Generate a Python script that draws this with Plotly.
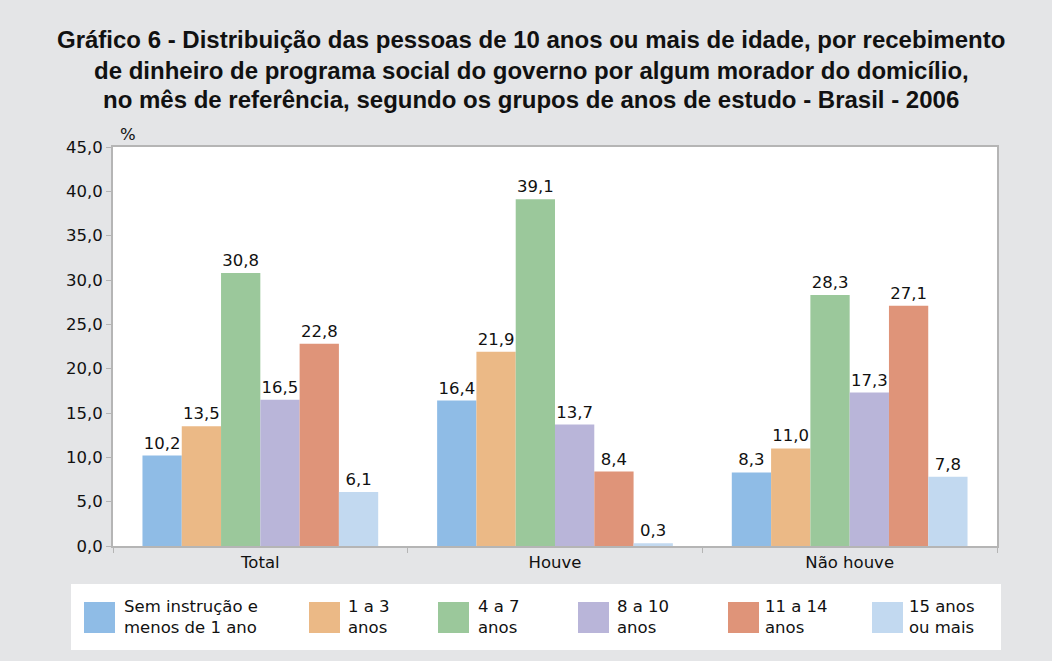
import plotly.graph_objects as go

categories = ["Total", "Houve", "Não houve"]
series_names = ["Sem instrução e<br>menos de 1 ano", "1 a 3<br>anos", "4 a 7<br>anos",
                "8 a 10<br>anos", "11 a 14<br>anos", "15 anos<br>ou mais"]
sem_instrucao = [10.2, 16.4, 8.3]
anos_1_3 = [13.5, 21.9, 11.0]
anos_4_7 = [30.8, 39.1, 28.3]
anos_8_10 = [16.5, 13.7, 17.3]
anos_11_14 = [22.8, 8.4, 27.1]
anos_15_mais = [6.1, 0.3, 7.8]
y_ticks = [0, 5, 10, 15, 20, 25, 30, 35, 40, 45]
title_lines = [
    "Gráfico 6 - Distribuição das pessoas de 10 anos ou mais de idade, por recebimento",
    "de dinheiro de programa social do governo por algum morador do domicílio,",
    "no mês de referência, segundo os grupos de anos de estudo - Brasil - 2006",
]

series_values = [sem_instrucao, anos_1_3, anos_4_7, anos_8_10, anos_11_14, anos_15_mais]
colors = ["#8fbce6", "#ebb986", "#9bc89b", "#b9b5d9", "#df9479", "#c2d9f0"]

W, H = 1052, 661
L, R, T, B = 113, 55, 147, 115
LABEL_FONT = "DejaVu Sans, Liberation Sans, Arial, sans-serif"

fig = go.Figure()
for name, vals, col in zip(series_names, series_values, colors):
    fig.add_trace(go.Bar(
        x=categories, y=vals, name=name.replace("<br>", " "),
        marker=dict(color=col, line=dict(width=0)),
        texttemplate="%{y:.1f}", textposition="outside",
        textfont=dict(size=16.5, color="#111111", family=LABEL_FONT),
        cliponaxis=False, showlegend=False,
    ))

pw = W - L - R
ph = H - T - B
def px(x):
    return (x - L) / pw
def py(y):
    return (H - B - y) / ph

shapes = [dict(type="rect", xref="paper", yref="paper",
               x0=px(71), x1=px(1001), y0=py(650), y1=py(584),
               fillcolor="white", line=dict(width=0), layer="below")]
annotations = []
sq_left = [84, 309, 438, 578, 728, 872]
txt_left = [122, 346, 476, 615, 763, 907]
for name, col, sx, tx in zip(series_names, colors, sq_left, txt_left):
    shapes.append(dict(type="rect", xref="paper", yref="paper",
                       x0=px(sx), x1=px(sx + 31), y0=py(633), y1=py(602),
                       fillcolor=col, line=dict(width=0)))
    annotations.append(dict(xref="paper", yref="paper", x=px(tx), y=py(617),
                            xanchor="left", yanchor="middle", text=name, showarrow=False,
                            align="left", font=dict(size=16.5, color="#111111", family=LABEL_FONT)))

annotations.append(dict(xref="paper", yref="paper", x=px(128), y=py(134),
                        xanchor="center", yanchor="middle", text="%", showarrow=False,
                        font=dict(size=16.5, color="#111111", family=LABEL_FONT)))

for line, yc in zip(title_lines, [40, 70, 99]):
    annotations.append(dict(xref="paper", yref="paper", x=px(531), y=py(yc),
                            xanchor="center", yanchor="middle", text="<b>" + line + "</b>",
                            showarrow=False,
                            font=dict(size=24, color="#111111",
                                      family="Liberation Sans, Arial, sans-serif")))

fig.update_layout(
    width=W, height=H,
    margin=dict(l=L, r=R, t=T, b=B),
    paper_bgcolor="#e4e5e7", plot_bgcolor="white",
    font=dict(family=LABEL_FONT, size=16.5, color="#111111"),
    separators=",.",
    barmode="group", bargap=0.2, bargroupgap=0,
    shapes=shapes, annotations=annotations,
    showlegend=False,
)
fig.update_yaxes(range=[0, 45], tickvals=y_ticks, tickformat=".1f", showgrid=False,
                 showline=True, linecolor="#b5b5b5", linewidth=2, mirror=True,
                 ticks="outside", ticklen=5, tickcolor="#b5b5b5", zeroline=False,
                 tickfont=dict(size=16.5))
fig.update_xaxes(showline=True, linecolor="#b5b5b5", linewidth=2, mirror=True,
                 ticks="outside", ticklen=5, tickcolor="#b5b5b5", tickson="boundaries",
                 tickfont=dict(size=16.5))

fig.write_html("out.html", config={"displayModeBar": False},
               post_script="document.body.style.margin='0';document.body.style.background='#e4e5e7';")
